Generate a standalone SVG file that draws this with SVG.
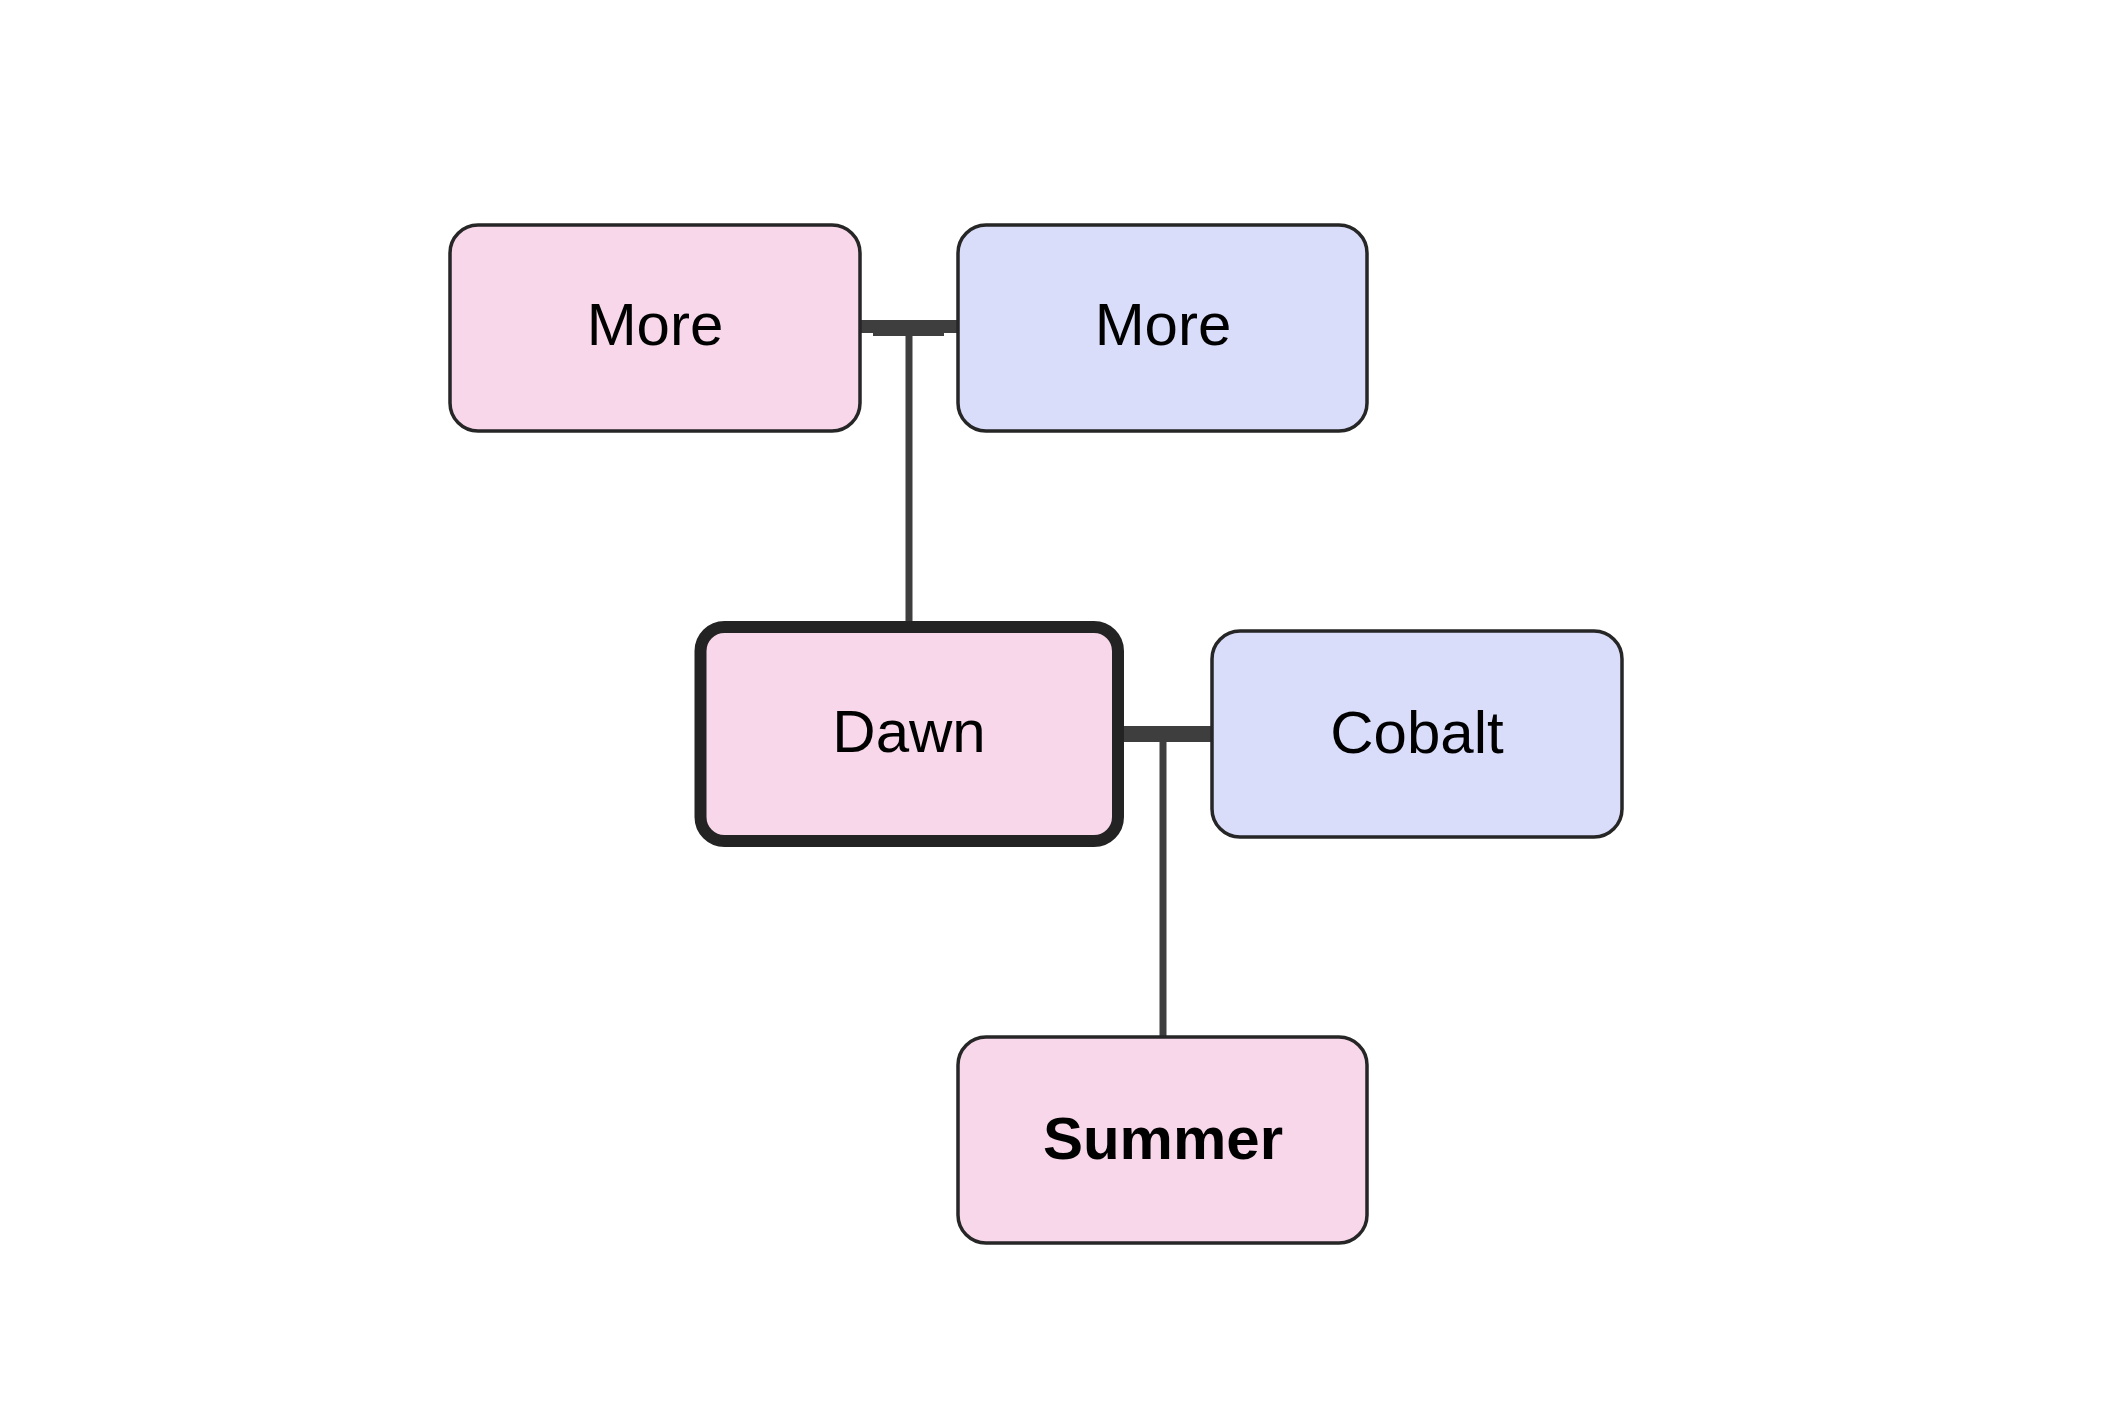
<svg xmlns="http://www.w3.org/2000/svg" width="2106" height="1406" viewBox="0 0 2106 1406">
<style>
.node rect{stroke:#262626;stroke-width:3.5}
.pink{fill:#f7d7e9}
.blue{fill:#d9ddf9}
.lbl{font-family:"Liberation Sans",Arial,sans-serif;font-size:60px;fill:#000;text-anchor:middle}
.bold{font-weight:bold}
.conn line{stroke:#3e3e3e;fill:none}
.conn rect{fill:#3e3e3e}
</style>
<rect width="2106" height="1406" fill="#ffffff"/>
<g id="connectors" class="conn">
<line x1="860" y1="326.5" x2="958" y2="326.5" stroke-width="13"/>
<rect x="873" y="322" width="71" height="14"/>
<line x1="909" y1="330" x2="909" y2="622" stroke-width="7"/>
<line x1="1118" y1="734" x2="1212" y2="734" stroke-width="16"/>
<line x1="1163" y1="738" x2="1163" y2="1037" stroke-width="7"/>
</g>
<g id="node-more-pink" class="node">
<rect class="pink" x="450" y="225" width="410" height="206" rx="28"/>
<text class="lbl" x="655" y="345">More</text>
</g>
<g id="node-more-blue" class="node">
<rect class="blue" x="958" y="225" width="409" height="206" rx="28"/>
<text class="lbl" x="1163" y="345">More</text>
</g>
<g id="node-dawn" class="node">
<rect class="pink" x="700.5" y="627" width="417.5" height="214" rx="24" style="stroke-width:12;stroke:#232323"/>
<text class="lbl" x="909" y="752">Dawn</text>
</g>
<g id="node-cobalt" class="node">
<rect class="blue" x="1212" y="631" width="410" height="206" rx="28"/>
<text class="lbl" x="1417" y="753">Cobalt</text>
</g>
<g id="node-summer" class="node">
<rect class="pink" x="958" y="1037" width="409" height="206" rx="28"/>
<text class="lbl bold" x="1163" y="1159">Summer</text>
</g>
</svg>
